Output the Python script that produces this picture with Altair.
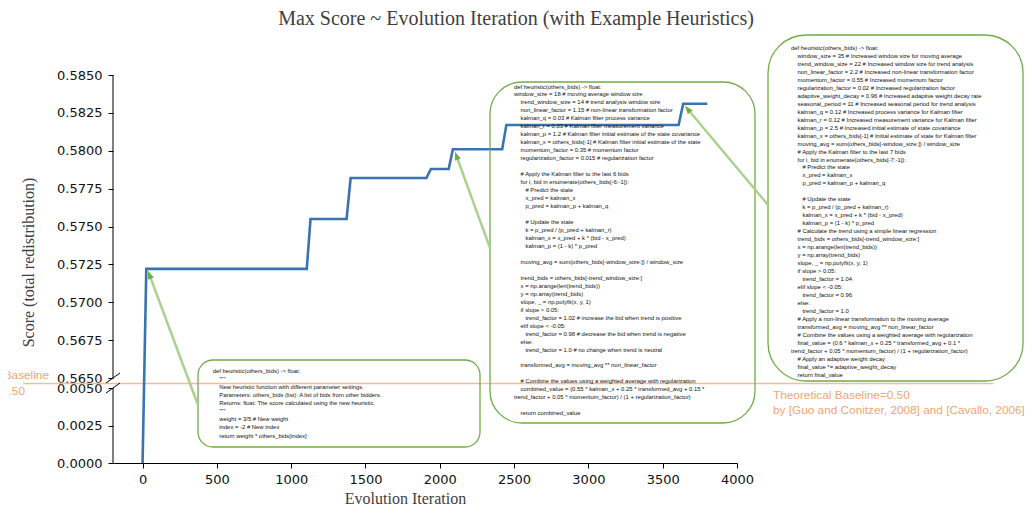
import math
import altair as alt
import pandas as pd

# ---------------- data ----------------
TITLE = "Max Score ~ Evolution Iteration (with Example Heuristics)"
X_TITLE = "Evolution Iteration"
Y_TITLE = "Score (total redistribution)"

iterations = [0, 25, 1105, 1130, 1373, 1400, 1910, 1940, 2060, 2088, 2420, 2448, 3607, 3638, 3800]
scores = [0.0, 0.5722, 0.5722, 0.5755, 0.5755, 0.5782, 0.5782, 0.5788, 0.5788,
          0.5801, 0.5801, 0.5817, 0.5817, 0.5831, 0.5831]

x_ticks = [0, 500, 1000, 1500, 2000, 2500, 3000, 3500, 4000]
y_ticks_low = [0.0, 0.0025, 0.005]
y_ticks_high = [0.565, 0.5675, 0.57, 0.5725, 0.575, 0.5775, 0.58, 0.5825, 0.585]
axis_seg_start = [0.0, 0.565]
axis_seg_end = [0.005, 0.585]

baseline_value = 0.50
baseline_label = ["Theoretical Baseline=0.50", "by [Guo and Conitzer, 2008] and [Cavallo, 2006]"]
baseline_left = ["Baseline", "0.50"]

code_1 = [
    "def heuristic(others_bids) -> float:",
    '    """',
    "    New heuristic function with different parameter settings.",
    "    Parameters: others_bids (list): A list of bids from other bidders.",
    "    Returns: float: The score calculated using the new heuristic.",
    '    """',
    "    weight = 3/5 # New weight",
    "    index = -2 # New index",
    "    return weight * others_bids[index]",
]

code_2 = [
    "def heuristic(others_bids) -> float:",
    "window_size = 18  # moving average window size",
    "    trend_window_size = 14  # trend analysis window size",
    "    non_linear_factor = 1.15  # non-linear transformation factor",
    "    kalman_q = 0.03  # Kalman filter process variance",
    "    kalman_r = 0.03  # Kalman filter measurement variance",
    "    kalman_p = 1.2  # Kalman filter initial estimate of the state covariance",
    "    kalman_x = others_bids[-1]  # Kalman filter initial estimate of the state",
    "    momentum_factor = 0.35  # momentum factor",
    "    regularization_factor = 0.015  # regularization factor",
    "",
    "    # Apply the Kalman filter to the last 6 bids",
    "    for i, bid in enumerate(others_bids[-6:-1]):",
    "        # Predict the state",
    "        x_pred = kalman_x",
    "        p_pred = kalman_p + kalman_q",
    "",
    "        # Update the state",
    "        k = p_pred / (p_pred + kalman_r)",
    "        kalman_x = x_pred + k * (bid - x_pred)",
    "        kalman_p = (1 - k) * p_pred",
    "",
    "    moving_avg = sum(others_bids[-window_size:]) / window_size",
    "",
    "    trend_bids = others_bids[-trend_window_size:]",
    "    x = np.arange(len(trend_bids))",
    "    y = np.array(trend_bids)",
    "    slope, _ = np.polyfit(x, y, 1)",
    "    if slope > 0.05:",
    "        trend_factor = 1.02  # increase the bid when trend is positive",
    "    elif slope < -0.05:",
    "        trend_factor = 0.98  # decrease the bid when trend is negative",
    "    else:",
    "        trend_factor = 1.0  # no change when trend is neutral",
    "",
    "    transformed_avg = moving_avg ** non_linear_factor",
    "",
    "    # Combine the values using a weighted average with regularization",
    "    combined_value = (0.55 * kalman_x + 0.25 * transformed_avg + 0.15 *",
    "trend_factor + 0.05 * momentum_factor) / (1 + regularization_factor)",
    "",
    "    return combined_value",
]

code_3 = [
    "def heuristic(others_bids) -> float:",
    "    window_size = 35  # Increased window size for moving average",
    "    trend_window_size = 22  # Increased window size for trend analysis",
    "    non_linear_factor = 2.2  # Increased non-linear transformation factor",
    "    momentum_factor = 0.55  # Increased momentum factor",
    "    regularization_factor = 0.02  # Increased regularization factor",
    "    adaptive_weight_decay = 0.96  # Increased adaptive weight decay rate",
    "    seasonal_period = 11  # Increased seasonal period for trend analysis",
    "    kalman_q = 0.12  # Increased process variance for Kalman filter",
    "    kalman_r = 0.12  # Increased measurement variance for Kalman filter",
    "    kalman_p = 2.5  # Increased initial estimate of state covariance",
    "    kalman_x = others_bids[-1]  # Initial estimate of state for Kalman filter",
    "    moving_avg = sum(others_bids[-window_size:]) / window_size",
    "    # Apply the Kalman filter to the last 7 bids",
    "    for i, bid in enumerate(others_bids[-7:-1]):",
    "        # Predict the state",
    "        x_pred = kalman_x",
    "        p_pred = kalman_p + kalman_q",
    "",
    "        # Update the state",
    "        k = p_pred / (p_pred + kalman_r)",
    "        kalman_x = x_pred + k * (bid - x_pred)",
    "        kalman_p = (1 - k) * p_pred",
    "    # Calculate the trend using a simple linear regression",
    "    trend_bids = others_bids[-trend_window_size:]",
    "    x = np.arange(len(trend_bids))",
    "    y = np.array(trend_bids)",
    "    slope, _ = np.polyfit(x, y, 1)",
    "    if slope > 0.05:",
    "        trend_factor = 1.04",
    "    elif slope < -0.05:",
    "        trend_factor = 0.96",
    "    else:",
    "        trend_factor = 1.0",
    "    # Apply a non-linear transformation to the moving average",
    "    transformed_avg = moving_avg ** non_linear_factor",
    "    # Combine the values using a weighted average with regularization",
    "    final_value = (0.6 * kalman_x + 0.25 * transformed_avg + 0.1 *",
    "trend_factor + 0.05 * momentum_factor) / (1 + regularization_factor)",
    "    # Apply an adaptive weight decay",
    "    final_value *= adaptive_weight_decay",
    "    return final_value",
]

# ---------------- layout / style ----------------
W, H = 624, 388
BLUE = "#3a74b0"
GREEN = "#70ad47"
LIGHT_GREEN = "#a9d18e"
ORANGE_LINE = "#f6bc96"
ORANGE_TEXT = "#f0a576"
CODE_FONT = "Liberation Sans"
CODE_SIZE = 5.9
SERIF = "Liberation Serif"
SANS = "DejaVu Sans"

NBSP = "\u00a0"
ZWSP = "\u200b"
INDENT = {0: 0, 1: 4, 2: 7}


def prep(lines):
    out = []
    for ln in lines:
        stripped = ln.lstrip(" ")
        level = (len(ln) - len(stripped)) // 4
        n = INDENT.get(level, 7)
        if not stripped:
            out.append(ZWSP + NBSP)
        elif n:
            out.append(ZWSP + NBSP * n + stripped)
        else:
            out.append(stripped)
    return out


one = pd.DataFrame({"k": [0]})

line_df = pd.DataFrame({"iteration": iterations, "score": scores})

x_scale = alt.Scale(domain=[-199, 4000], nice=False, zero=False)
y_scale = alt.Scale(
    domain=[0.0, 0.005, baseline_value, 0.565, 0.585],
    range=[H, 313, 308.5, 303, 0],
    nice=False, zero=False,
)
y_values = y_ticks_low + y_ticks_high
y_axis = alt.Axis(values=y_values, tickCount=len(y_values) + 4, format=".4f",
                  title=Y_TITLE, domain=False, labelOverlap=False,
                  labelFlush=False, labelBound=False,
                  titleX=-85, titleY=187, titleBaseline="middle")

main_line = alt.Chart(line_df).mark_line(color=BLUE, strokeWidth=2.6).encode(
    x=alt.X("iteration:Q", scale=x_scale,
            axis=alt.Axis(values=x_ticks, tickCount=len(x_ticks) + 4, format="d",
                          title=X_TITLE, labelFlush=False,
                          titleX=292, titleY=35, titleBaseline="middle")),
    y=alt.Y("score:Q", scale=y_scale, axis=y_axis),
)

seg_df = pd.DataFrame({"lo": axis_seg_start, "hi": axis_seg_end})
axis_segments = alt.Chart(seg_df).mark_rule(color="#000000", strokeWidth=1).encode(
    x=alt.value(0),
    y=alt.Y("lo:Q", scale=y_scale, axis=y_axis),
    y2="hi:Q",
)

# break marks on the y axis
breaks = []
for (ya, yb) in [(308, 298), (318, 308)]:
    breaks.append(
        alt.Chart(one).mark_rule(color="#000000", strokeWidth=1).encode(
            x=alt.value(-7), x2=alt.value(7), y=alt.value(ya), y2=alt.value(yb))
    )

baseline_rule = alt.Chart(one).mark_rule(color=ORANGE_LINE, strokeWidth=1.6).encode(
    x=alt.value(-90), x2=alt.value(880), y=alt.datum(baseline_value),
)

baseline_text = alt.Chart(one).mark_text(
    align="left", baseline="alphabetic", font="Liberation Sans", fontSize=11.8,
    lineHeight=15, color=ORANGE_TEXT,
).encode(x=alt.value(660), y=alt.value(324), text=alt.value(baseline_label))

baseline_left_a = alt.Chart(one).mark_text(
    align="right", baseline="middle", font="Liberation Sans", fontSize=11.8,
    color=ORANGE_TEXT,
).encode(x=alt.value(-64), y=alt.value(300), text=alt.value(baseline_left[0]))
baseline_left_b = alt.Chart(one).mark_text(
    align="right", baseline="middle", font="Liberation Sans", fontSize=11.8,
    color=ORANGE_TEXT,
).encode(x=alt.value(-88), y=alt.value(316), text=alt.value(baseline_left[1]))

# annotation boxes
boxes = [
    dict(x=85, y=285, x2=367, y2=372, r=15),
    dict(x=377, y=7, x2=642, y2=348, r=32),
    dict(x=655, y=-40, x2=910, y2=306, r=38),
]
box_layers = []
for b in boxes:
    box_layers.append(
        alt.Chart(one).mark_rect(fill="transparent", stroke=GREEN, strokeWidth=1.3,
                                 cornerRadius=b["r"]).encode(
            x=alt.value(b["x"]), x2=alt.value(b["x2"]),
            y=alt.value(b["y"]), y2=alt.value(b["y2"]))
    )

texts = [
    (code_1, 99.7, 298.2, 8.04),
    (code_2, 401, 13.5, 7.97),
    (code_3, 678, -25.2, 7.98),
]
text_layers = []
for lines, tx, ty, lh in texts:
    text_layers.append(
        alt.Chart(one).mark_text(align="left", baseline="alphabetic", font=CODE_FONT,
                                 fontSize=CODE_SIZE, lineHeight=lh, color="#111111").encode(
            x=alt.value(tx), y=alt.value(ty), text=alt.value(prep(lines)))
    )

# arrows (tail -> tip), in plot pixels
arrows = [((85, 330), (35, 196)), ((377, 173), (342, 77)), ((655, 130), (572, 31))]
arrow_layers = []
HEAD = 4.0
for (tx, ty), (hx, hy) in arrows:
    dx, dy = hx - tx, hy - ty
    L = math.hypot(dx, dy)
    ux, uy = dx / L, dy / L
    cx, cy = hx - HEAD * ux, hy - HEAD * uy
    ang = math.degrees(math.atan2(dx, -dy)) % 360
    arrow_layers.append(
        alt.Chart(one).mark_rule(color=LIGHT_GREEN, strokeWidth=2.4).encode(
            x=alt.value(tx), y=alt.value(ty), x2=alt.value(cx), y2=alt.value(cy))
    )
    arrow_layers.append(
        alt.Chart(one).mark_point(shape="M0,-1L0.75,1L-0.75,1Z", filled=True, size=70,
                                  angle=ang, color=GREEN, opacity=1).encode(
            x=alt.value(cx), y=alt.value(cy))
    )

title_text = alt.Chart(one).mark_text(
    align="center", baseline="middle", font=SERIF, fontSize=20, color="#404040",
).encode(x=alt.value(403), y=alt.value(-56), text=alt.value(TITLE))

chart = alt.layer(
    baseline_rule, main_line, axis_segments, *breaks,
    baseline_text, baseline_left_a, baseline_left_b,
    *box_layers, *text_layers, *arrow_layers, title_text,
).properties(
    width=W, height=H,
    autosize=alt.AutoSizeParams(type="none"),
    padding={"left": 105, "top": 67, "right": 287, "bottom": 43},
).configure_view(strokeWidth=0).configure_axis(
    grid=False, domainColor="#000000", tickColor="#000000", tickSize=5,
    labelFont=SANS, labelFontSize=13, labelColor="#111111", labelPadding=5,
    titleFont=SERIF, titleFontSize=16, titleFontWeight="normal", titleColor="#404040",
).configure_axisY(labelPadding=6, labelOverlap=False, labelBound=False)

chart.save("out.html", embed_options={"renderer": "svg", "actions": False})
